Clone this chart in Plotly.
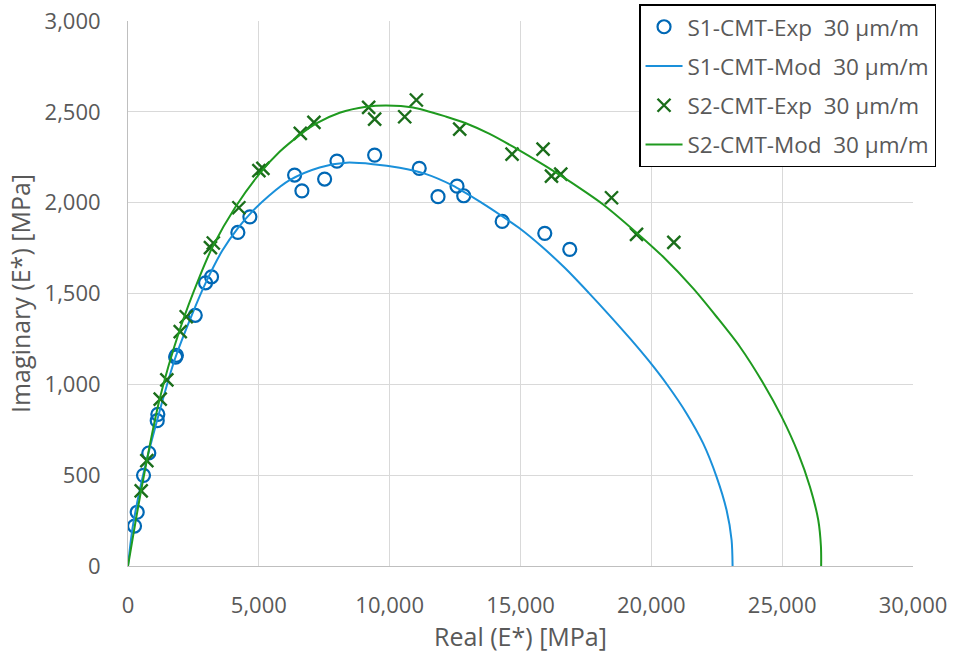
import plotly.graph_objects as go

# Experimental points, sample S1 (real, imaginary) in MPa
s1_exp_real = [249, 352, 593, 795, 1117, 1140, 1820, 1850, 2570, 2964, 3193,
               4199, 4658, 6367, 6646, 7514, 7985, 9426, 11130, 11848, 12574,
               12830, 14300, 15928, 16883]
s1_exp_imag = [220, 296, 499, 622, 800, 835, 1150, 1160, 1380, 1559, 1592,
               1836, 1922, 2152, 2065, 2130, 2229, 2262, 2189, 2033, 2091,
               2038, 1897, 1831, 1743]

# Model curve, sample S1
s1_mod_real = [0, 180, 560, 1080, 1780, 2450, 2990, 3600, 4200, 4772, 5400,
               6176, 7323, 8344, 9362, 10382, 11338, 12400, 13506, 14300,
               15000, 15800, 16700, 17600, 18400, 19200, 19900, 20620, 21346,
               21981, 22493, 22875, 23067, 23105]
s1_mod_imag = [0, 215, 490, 785, 1134, 1385, 1565, 1735, 1860, 1955, 2040,
               2124, 2194, 2220, 2212, 2192, 2160, 2095, 2000, 1925,
               1855, 1760, 1640, 1505, 1380, 1250, 1130, 995, 840,
               675, 491, 308, 143, 0]

# Experimental points, sample S2
s2_exp_real = [504, 720, 1231, 1484, 1996, 2225, 3150, 3260, 4237, 5002, 5155,
               6585, 7106, 9197, 9426, 10574, 11021, 12677, 14677, 15863,
               16184, 16539, 18478, 19434, 20860]
s2_exp_imag = [414, 580, 919, 1024, 1290, 1372, 1752, 1778, 1972, 2176, 2189,
               2381, 2442, 2524, 2460, 2473, 2565, 2405, 2267, 2295,
               2146, 2157, 2027, 1825, 1781]

# Model curve, sample S2
s2_mod_real = [0, 500, 1200, 2000, 2734, 3243, 4100, 5029, 5793, 6558, 7197,
               8088, 9108, 9873, 10891, 12168, 12933, 13800, 14715, 15992,
               17266, 18157, 19434, 20451, 21599, 22493, 23384, 24276, 24978,
               25614, 26061, 26379, 26482, 26490]
s2_mod_imag = [0, 414, 914, 1310, 1592, 1760, 1975, 2160, 2280, 2372, 2436,
               2495, 2528, 2535, 2524, 2473, 2436, 2380, 2308, 2198,
               2080, 1990, 1835, 1702, 1528, 1372, 1207, 1006, 822,
               620, 436, 253, 106, 0]

x_ticks = [0, 5000, 10000, 15000, 20000, 25000, 30000]
y_ticks = [0, 500, 1000, 1500, 2000, 2500, 3000]

FONT = "Open Sans"
GREY = "#595959"
NB = "\u00a0"

fig = go.Figure()
fig.add_trace(go.Scatter(
    x=s1_exp_real, y=s1_exp_imag, mode="markers",
    name="S1-CMT-Exp" + NB + " 30 µm/m", legendgroup="a",
    marker=dict(symbol="circle-open", size=13, color="#0068B5",
                line=dict(width=2.2, color="#0068B5")),
))
fig.add_trace(go.Scatter(
    x=s1_mod_real, y=s1_mod_imag, mode="lines",
    name="S1-CMT-Mod" + NB + " 30 µm/m", legendgroup="b",
    line=dict(color="#1A90DA", width=2, shape="spline", smoothing=0.8),
))
fig.add_trace(go.Scatter(
    x=s2_exp_real, y=s2_exp_imag, mode="markers",
    name="S2-CMT-Exp" + NB + " 30 µm/m", legendgroup="c",
    marker=dict(symbol="x-thin-open", size=13, color="#1B6E1B",
                line=dict(width=2.4, color="#1B6E1B")),
))
fig.add_trace(go.Scatter(
    x=s2_mod_real, y=s2_mod_imag, mode="lines",
    name="S2-CMT-Mod" + NB + " 30 µm/m", legendgroup="d",
    line=dict(color="#1F9A1F", width=2, shape="spline", smoothing=0.8),
))

fig.update_layout(
    width=953, height=655,
    margin=dict(l=128, r=40, t=21, b=89, autoexpand=False),
    paper_bgcolor="white", plot_bgcolor="white",
    font=dict(family=FONT, color=GREY, size=20),
    showlegend=True,
    legend=dict(
        x=0.651, y=1.031, xanchor="left", yanchor="top",
        bgcolor="white", bordercolor="black", borderwidth=1.5,
        font=dict(family=FONT, size=22.5, color=GREY),
        tracegroupgap=7, itemwidth=37,
    ),
    xaxis=dict(
        range=[0, 30000], tickvals=x_ticks, tickformat=",d",
        showgrid=True, gridcolor="#D9D9D9", gridwidth=1,
        showline=True, linecolor="#BFBFBF", linewidth=1,
        zeroline=False,
        ticks="outside", ticklen=20, tickcolor="rgba(0,0,0,0)",
        tickfont=dict(family=FONT, size=22, color=GREY),
        title=dict(text="Real (E*) [MPa]", standoff=2,
                   font=dict(family=FONT, size=25, color=GREY)),
    ),
    yaxis=dict(
        range=[0, 3000], tickvals=y_ticks, tickformat=",d",
        showgrid=True, gridcolor="#D9D9D9", gridwidth=1,
        showline=True, linecolor="#BFBFBF", linewidth=1,
        zeroline=False,
        ticks="outside", ticklen=22, tickcolor="rgba(0,0,0,0)",
        tickfont=dict(family=FONT, size=22, color=GREY),
        title=dict(text="Imaginary (E*) [MPa]", standoff=6,
                   font=dict(family=FONT, size=25, color=GREY)),
    ),
)

fig.write_html("out.html")
